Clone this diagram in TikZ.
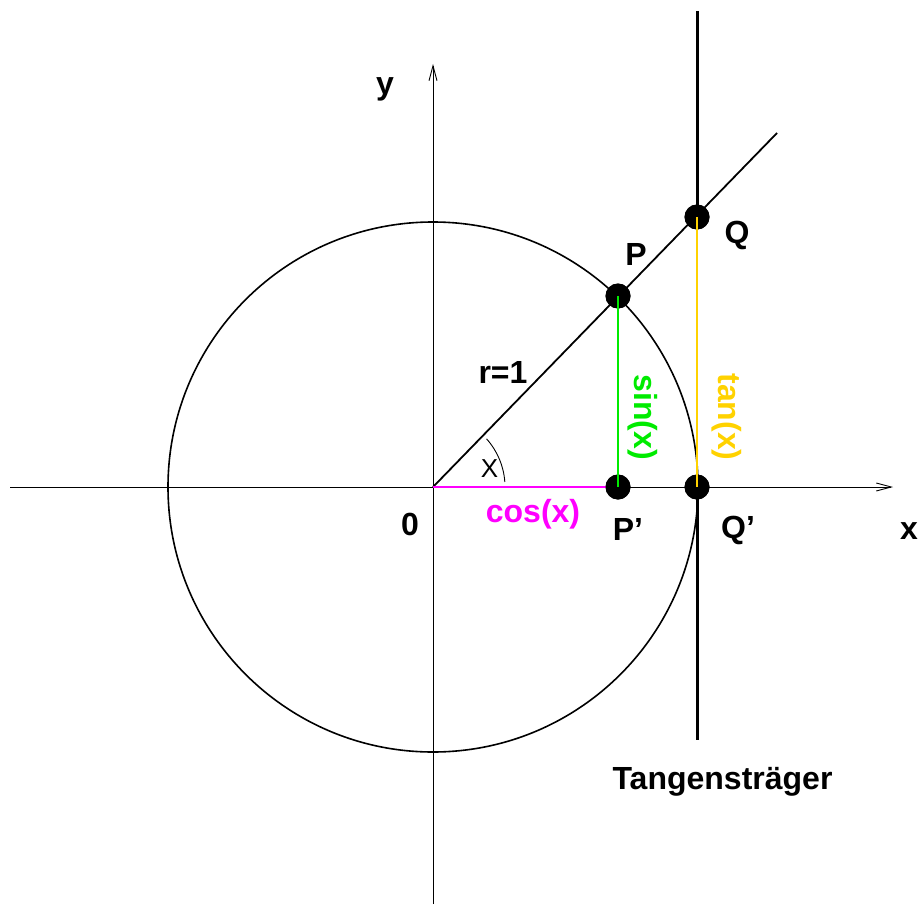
\documentclass[tikz,border=0pt]{standalone}
\usepackage{fontspec}
\setmainfont{Liberation Sans}
\usetikzlibrary{arrows.meta}
\definecolor{xmag}{RGB}{255,0,255}
\definecolor{xgreen}{RGB}{0,235,0}
\definecolor{xgold}{RGB}{255,210,0}
\begin{document}
\begin{tikzpicture}[x=1pt,y=-1pt,
 lab/.style={font=\fontsize{32}{37}\selectfont\bfseries, inner sep=0pt, anchor=base},
 dot/.style={circle, fill=black, minimum size=25pt, inner sep=0pt},
 axis/.style={line width=0.9pt, -{Straight Barb[length=15pt,width=8pt]}},
]
\useasboundingbox (0,0) rectangle (920,904);
\coordinate (O) at (433,487);
\coordinate (xs) at (10,487); \coordinate (xe) at (893,487);
\coordinate (ys) at (433,904); \coordinate (ye) at (433,64);
\coordinate (tt) at (697,11); \coordinate (tb) at (697,740);
\coordinate (de) at (777,133);
\node[dot] (P) at (618,296) {};
\node[dot] (Q) at (697,217) {};
\node[dot] (Pp) at (618,487) {};
\node[dot] (Qp) at (697,487) {};
\draw[axis] (xs) -- (xe);
\draw[axis] (ys) -- (ye);
\draw[line width=1.6pt] (O) circle[radius=265];
\draw[line width=3pt] (tt) -- (Q.center);
\draw[line width=3pt] (Qp.center) -- (tb);
\draw[line width=1.8pt] (O) -- (de);
\draw[line width=0.9pt] (O) ++(-4:72) arc[start angle=-4, end angle=-42, radius=72];
\draw[xmag, line width=1.8pt] (O) -- (Pp.center);
\node[dot] at (P) {};
\node[dot] at (Q) {};
\node[dot] at (Pp) {};
\node[dot] at (Qp) {};
\draw[xgreen, line width=2pt] (P.center) -- (Pp.center);
\draw[xgold, line width=2.2pt] (Q.center) -- (Qp.center);
\node[lab] (ylab) at (385,95) {y};
\node[lab] (xlab) at (909,539) {x};
\node[lab] (zero) at (410,535) {0};
\node[lab] (Plab) at (636,265) {P};
\node[lab] (Qlab) at (737,243) {Q};
\node[lab] (Pplab) at (628,540) {P’};
\node[lab] (Qplab) at (738,538) {Q’};
\node[lab] (rlab) at (503,383) {r=1};
\node[lab, xmag] (coslab) at (533,522) {cos(x)};
\node[lab, xgreen, anchor=center, rotate=-90] (sinlab) at (643,417) {sin(x)};
\node[lab, xgold, anchor=center, rotate=-90] (tanlab) at (727,417) {tan(x)};
\node[lab] (tang) at (722.5,789) {Tangensträger};
\node[font=\fontsize{26}{30}\selectfont, inner sep=0pt, anchor=base] (alab) at (489.5,477) {X};
\end{tikzpicture}
\end{document}
